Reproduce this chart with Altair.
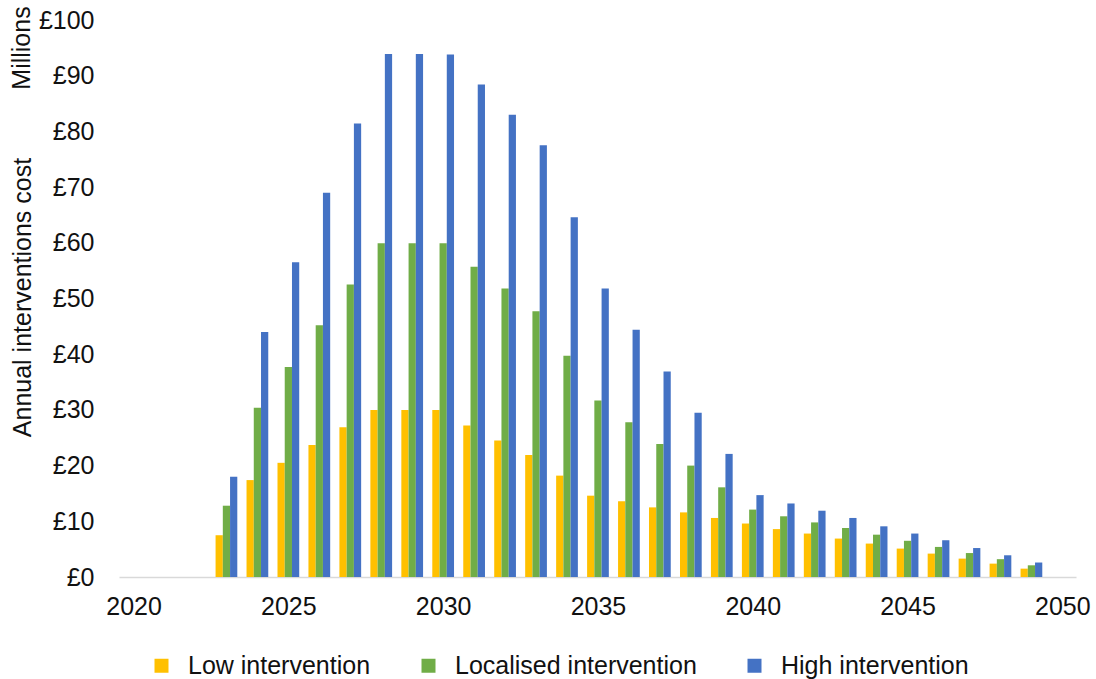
import altair as alt
import pandas as pd

# Annual interventions cost (£ millions) by scenario, 2023-2049
years = list(range(2023, 2050))
low_intervention = [7.5, 17.4, 20.5, 23.7, 26.9, 30.0, 30.0, 30.0, 27.2, 24.5,
                    21.9, 18.2, 14.6, 13.6, 12.5, 11.6, 10.6, 9.6, 8.6, 7.8,
                    6.9, 6.0, 5.1, 4.2, 3.3, 2.4, 1.5]
localised_intervention = [12.8, 30.4, 37.7, 45.2, 52.5, 59.9, 59.9, 59.9, 55.7, 51.8,
                          47.7, 39.7, 31.7, 27.8, 23.9, 20.0, 16.1, 12.1, 10.9, 9.8,
                          8.8, 7.6, 6.5, 5.4, 4.3, 3.2, 2.1]
high_intervention = [18.0, 44.0, 56.5, 69.0, 81.4, 93.9, 93.9, 93.8, 88.4, 83.0,
                     77.5, 64.6, 51.8, 44.4, 36.9, 29.5, 22.1, 14.7, 13.2, 11.9,
                     10.6, 9.1, 7.8, 6.6, 5.2, 3.9, 2.6]

series_names = ["Low intervention", "Localised intervention", "High intervention"]
series_colors = ["#FFC000", "#70AD47", "#4472C4"]
x_ticks = [2020, 2025, 2030, 2035, 2040, 2045, 2050]
y_ticks = [0, 10, 20, 30, 40, 50, 60, 70, 80, 90, 100]

df = pd.DataFrame({
    "year": years * 3,
    "series": sum([[s] * len(years) for s in series_names], []),
    "cost": low_intervention + localised_intervention + high_intervention,
})

FONT = "Liberation Sans"
BAR_W = 0.234  # width of one bar in years

names_js = "[" + ",".join("'" + s + "'" for s in series_names) + "]"

bars = (
    alt.Chart(df)
    .transform_calculate(idx=f"indexof({names_js}, datum.series)")
    .transform_calculate(x0=f"datum.year + (datum.idx - 1.5) * {BAR_W}")
    .transform_calculate(x1=f"datum.x0 + {BAR_W}")
    .mark_bar()
    .encode(
        x=alt.X(
            "x0:Q",
            scale=alt.Scale(domain=[2019.53, 2050.44], nice=False, zero=False),
            axis=alt.Axis(
                values=x_ticks, format="d", title=None, grid=False,
                ticks=False, labelPadding=17, labelFontSize=25,
                labelFont=FONT, labelColor="#111111",
                domain=True, domainColor="#d9d9d9", domainWidth=1.5,
                labelFlush=False,
            ),
        ),
        x2="x1:Q",
        y=alt.Y(
            "cost:Q",
            scale=alt.Scale(domain=[0, 100], nice=False),
            axis=alt.Axis(
                values=y_ticks, labelExpr="'£' + datum.value",
                grid=False, ticks=False, domain=False, labelPadding=25,
                labelFontSize=25, labelFont=FONT, labelColor="#111111",
                title="Annual interventions cost", titleFont=FONT,
                titleFontSize=25, titleFontWeight="normal", titleColor="#111111",
                titleAngle=270, titleAlign="center", titleBaseline="middle",
                titleX=-97, titleY=277,
            ),
        ),
        y2=alt.datum(0),
        color=alt.Color(
            "series:N",
            scale=alt.Scale(domain=series_names, range=series_colors),
            legend=alt.Legend(
                title=None, orient="none", direction="horizontal",
                legendX=30, legendY=633, symbolType="square",
                symbolSize=196, symbolStrokeWidth=0, labelOffset=14,
                columnPadding=45, labelFontSize=25, labelFont=FONT,
                labelColor="#111111", labelLimit=500, padding=0,
            ),
        ),
    )
)

units = (
    alt.Chart(pd.DataFrame({"t": ["Millions"]}))
    .mark_text(angle=270, font=FONT, fontSize=25, color="#111111",
               align="center", baseline="middle")
    .encode(x=alt.value(-97), y=alt.value(28), text="t:N")
)

chart = (
    alt.layer(bars, units)
    .properties(
        width=957, height=557,
        padding={"left": 119, "top": 20, "right": 20, "bottom": 102},
        autosize=alt.AutoSizeParams(type="none"),
        background="white",
    )
    .configure_view(stroke=None)
)

chart.save("out.html", embed_options={"renderer": "svg", "actions": False})
